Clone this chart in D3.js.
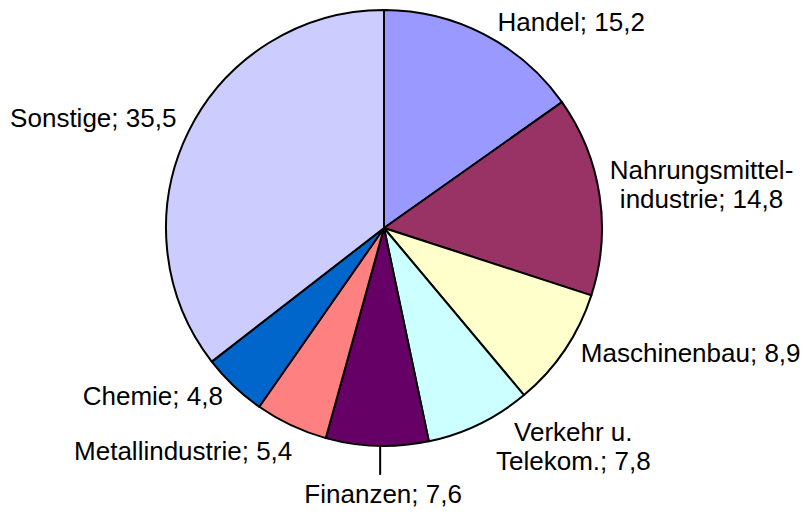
<!DOCTYPE html>
<html>
<head>
<meta charset="utf-8">
<script src="https://cdn.jsdelivr.net/npm/d3@7"></script>
<style>
  body { margin: 0; background: #fff; }
  svg text { font-family: "Liberation Sans", Arial, sans-serif; font-size: 26px; fill: #000; }
</style>
</head>
<body>
<svg id="chart" width="806" height="513"></svg>
<script>
// Branchenanteile in %
const categories = ["Handel", "Nahrungsmittel-industrie", "Maschinenbau", "Verkehr u. Telekom.", "Finanzen", "Metallindustrie", "Chemie", "Sonstige"];
const values = [15.2, 14.8, 8.9, 7.8, 7.6, 5.4, 4.8, 35.5];
const labelLines = [["Handel; 15,2"], ["Nahrungsmittel-", "industrie; 14,8"], ["Maschinenbau; 8,9"], ["Verkehr u.", "Telekom.; 7,8"], ["Finanzen; 7,6"], ["Metallindustrie; 5,4"], ["Chemie; 4,8"], ["Sonstige; 35,5"]];
const colors = ["#9999ff", "#993366", "#ffffcc", "#ccffff", "#660066", "#ff8080", "#0066cc", "#ccccff"];

const svg = d3.select("#chart");
const cx = 384, cy = 228, radius = 218;

// label offsets from the slice's edge point (layout only)
const labelOffset = [
  { dx: 87, dy: -3 }, { dx: 102, dy: -16 }, { dx: 126, dy: 12 }, { dx: 94, dy: 17 },
  { dx: 6, dy: 57 }, { dx: -108, dy: 35 }, { dx: -81, dy: 19 }, { dx: -95, dy: -5 }
];
const lineHeight = 29;

const pie = d3.pie().sort(null).value(d => d);
const arcs = pie(values);
const arc = d3.arc().innerRadius(0).outerRadius(radius);

const g = svg.append("g").attr("transform", `translate(${cx},${cy})`);

g.selectAll("path.slice")
  .data(arcs)
  .enter().append("path")
  .attr("class", "slice")
  .attr("d", arc)
  .attr("fill", (d, i) => colors[i])
  .attr("stroke", "#000")
  .attr("stroke-width", 2)
  .attr("stroke-linejoin", "round");

function edgePoint(d, r) {
  const a = (d.startAngle + d.endAngle) / 2;
  return [r * Math.sin(a), -r * Math.cos(a)];
}

const labels = g.selectAll("text.label")
  .data(arcs)
  .enter().append("text")
  .attr("class", "label")
  .attr("text-anchor", "middle")
  .attr("transform", (d, i) => {
    const p = edgePoint(d, radius);
    return `translate(${p[0] + labelOffset[i].dx},${p[1] + labelOffset[i].dy})`;
  });

labels.selectAll("tspan")
  .data((d, i) => labelLines[i])
  .enter().append("tspan")
  .attr("x", 0)
  .attr("dy", (t, j) => j === 0 ? 0 : lineHeight)
  .text(t => t);

// leader line for Finanzen
const fin = arcs[categories.indexOf("Finanzen")];
const p0 = edgePoint(fin, radius);
g.append("line")
  .attr("x1", p0[0] + 3).attr("y1", p0[1] + 1)
  .attr("x2", p0[0] + 3).attr("y2", p0[1] + 29)
  .attr("stroke", "#000")
  .attr("stroke-width", 2);
</script>
</body>
</html>
